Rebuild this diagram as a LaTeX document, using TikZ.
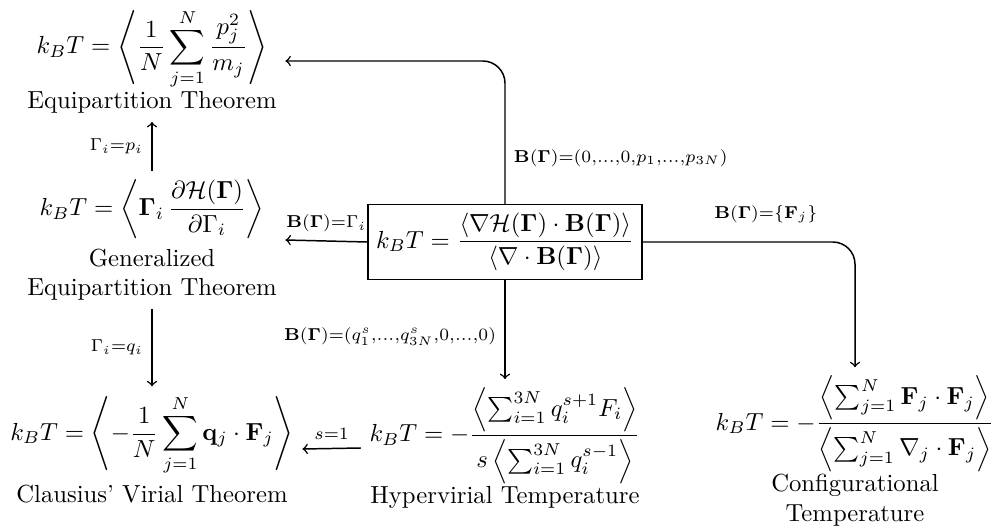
\documentclass[tikz,border=0pt]{standalone}
\usepackage{amsmath,amssymb}
\usepackage{bm}

\begin{document}
\begin{tikzpicture}[x=0.01423cm,y=-0.01423cm,
    thm/.style={align=center},
    conn/.style={->,semithick}]
    \useasboundingbox (0,0) rectangle (993,528);
    % theorems
    \node[thm] (equip) at (152,61) {$\displaystyle k_BT = \left\langle \frac{1}{N}\sum_{j=1}^{N}\frac{p_j^2}{m_j}\right\rangle$\\Equipartition Theorem};
    \node[thm] (gen) at (152,240) {$\displaystyle k_BT = \left\langle \mathbf{\Gamma}_i\,\frac{\partial\mathcal{H}(\mathbf{\Gamma})}{\partial\Gamma_i}\right\rangle$\\[3pt]Generalized\\Equipartition Theorem};
    \node[thm] (claus) at (152,449) {$\displaystyle k_BT = \left\langle -\frac{1}{N}\sum_{j=1}^{N}\mathbf{q}_j\cdot\mathbf{F}_j\right\rangle$\\[3pt]Clausius' Virial Theorem};
    \node[thm] (hyper) at (505,448) {$\displaystyle k_BT = -\frac{\left\langle\sum_{i=1}^{3N} q_i^{s+1}F_i\right\rangle}{s\left\langle\sum_{i=1}^{3N} q_i^{s-1}\right\rangle}$\\Hypervirial Temperature};
    \node[thm] (config) at (855,451) {$\displaystyle k_BT = -\frac{\left\langle\sum_{j=1}^{N}\mathbf{F}_j\cdot\mathbf{F}_j\right\rangle}{\left\langle\sum_{j=1}^{N}\nabla_j\cdot\mathbf{F}_j\right\rangle}$\\Configurational\\Temperature};
    % general expression
    \node[draw,semithick] (main) at (505,242) {$\displaystyle k_BT = \frac{\langle\nabla\mathcal{H}(\mathbf{\Gamma})\cdot\mathbf{B}(\mathbf{\Gamma})\rangle}{\langle\nabla\cdot\mathbf{B}(\mathbf{\Gamma})\rangle}$};
    % connections
    \draw[conn,rounded corners=9pt] (main.north) |- node[pos=0.16,right]{$\scriptstyle\mathbf{B}(\mathbf{\Gamma})=(0,\ldots,0,p_1,\ldots,p_{3N})$} (equip.east);
    \draw[conn] (main.west) -- node[above]{$\scriptstyle\mathbf{B}(\mathbf{\Gamma})=\Gamma_i$} (gen.east);
    \draw[conn] (gen.north) -- node[left]{$\scriptstyle\Gamma_i=p_i$} (equip.south);
    \draw[conn] (gen.south) -- node[left]{$\scriptstyle\Gamma_i=q_i$} (claus.north);
    \draw[conn] (main.south) -- node[pos=0.57,left]{$\scriptstyle\mathbf{B}(\mathbf{\Gamma})=(q_1^s,\ldots,q_{3N}^s,0,\ldots,0)$} (hyper.north);
    \draw[conn] (hyper.west) -- node[above]{$\scriptstyle s=1$} (claus.east);
    \draw[conn,rounded corners=9pt] (main.east) -| node[pos=0.29,above=4pt]{$\scriptstyle\mathbf{B}(\mathbf{\Gamma})=\{\mathbf{F}_j\}$} (config.north);
\end{tikzpicture}
\end{document}
